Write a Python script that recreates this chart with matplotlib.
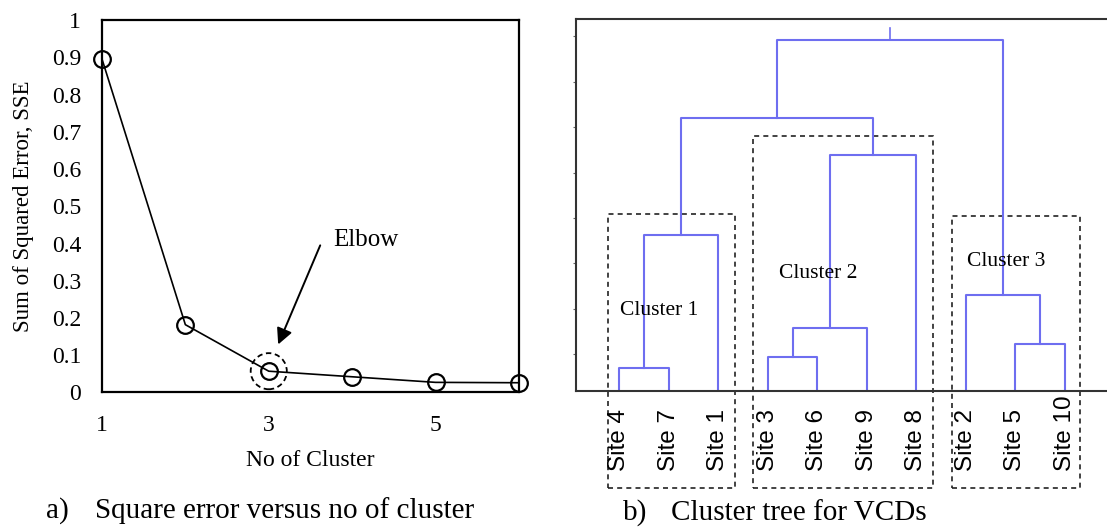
import numpy as np
import matplotlib.pyplot as plt
from matplotlib.patches import Rectangle

# elbow curve data
n_cluster = [1, 2, 3, 4, 5, 6]
sse = [0.896, 0.182, 0.057, 0.042, 0.027, 0.026]

# dendrogram data: leaf order and merges (left, right, height)
leaves = ["Site 4", "Site 7", "Site 1", "Site 3", "Site 6", "Site 9", "Site 8",
          "Site 2", "Site 5", "Site 10"]
merges = [(0, 1, 0.062), (10, 2, 0.419),
          (3, 4, 0.092), (12, 5, 0.171), (13, 6, 0.636),
          (11, 14, 0.734),
          (8, 9, 0.127), (7, 16, 0.258),
          (15, 17, 0.943)]
cluster_names = ["Cluster 1", "Cluster 2", "Cluster 3"]
cluster_label_pos = [(1.81, 0.218), (5.01, 0.316), (8.81, 0.349)]
cluster_boxes = [(0.774, 3.338, 0.476), (3.691, 7.326, 0.685), (7.727, 10.297, 0.472)]

serif = "Liberation Serif"
fig = plt.figure(figsize=(11.07, 5.29), dpi=100)

# ---- a) elbow plot
ax1 = fig.add_axes([0.0921, 0.2582, 0.3767, 0.7036])
ax1.plot(n_cluster, sse, "k-", lw=1.2, marker="o", ms=12, mfc="none", mec="k", mew=1.6,
         clip_on=False, zorder=3)
ax1.scatter([n_cluster[2]], [sse[2]], s=26**2, facecolors="none", edgecolors="k",
            linewidths=1.3, linestyles=(0, (3, 2)), clip_on=False, zorder=3)
ax1.set_xlim(1, 6)
ax1.set_ylim(0, 1)
ax1.set_xticks([1, 3, 5])
ax1.set_yticks(np.arange(0, 1.01, 0.1))
ax1.set_yticklabels(["0", "0.1", "0.2", "0.3", "0.4", "0.5", "0.6", "0.7", "0.8", "0.9", "1"])
ax1.tick_params(length=0, labelsize=17, pad=15)
ax1.tick_params(axis="x", pad=16)
for lab in ax1.get_xticklabels() + ax1.get_yticklabels():
    lab.set_fontfamily(serif)
for s in ax1.spines.values():
    s.set_linewidth(1.6)
ax1.set_xlabel("No of Cluster", fontsize=17, fontfamily=serif, labelpad=10)
ax1.set_ylabel("Sum of Squared Error, SSE", fontsize=16.5, fontfamily=serif, labelpad=13)
ax1.annotate("", xy=(3.1, 0.122), xytext=(3.63, 0.402),
             arrowprops=dict(arrowstyle="-|>", color="k", lw=1.4, mutation_scale=24))
ax1.text(3.77, 0.41, "Elbow", fontsize=18, fontfamily=serif, va="center", ha="left")

fig.text(0.0416, 0.034, "a)", fontsize=21, fontfamily=serif, va="center")
fig.text(0.0855, 0.034, "Square error versus no of cluster", fontsize=21, fontfamily=serif, va="center")

# ---- b) dendrogram
ax2 = fig.add_axes([0.5207, 0.2601, 0.4793, 0.7036])
blue = "#6e6ef0"
xpos = {i: i + 1.0 for i in range(len(leaves))}
ypos = {i: 0.0 for i in range(len(leaves))}
for k, (a, b, h) in enumerate(merges):
    node = len(leaves) + k
    ax2.plot([xpos[a], xpos[a], xpos[b], xpos[b]], [ypos[a], h, h, ypos[b]], color=blue, lw=1.5)
    xpos[node] = (xpos[a] + xpos[b]) / 2
    ypos[node] = h
top = len(leaves) + len(merges) - 1
ax2.plot([xpos[top], xpos[top]], [ypos[top], 0.977], color=blue, lw=1.2)

ax2.set_xlim(0.134, 10.85)
ax2.set_ylim(0, 1)
ax2.spines["right"].set_visible(False)
for s in ["left", "top", "bottom"]:
    ax2.spines[s].set_linewidth(1.5)
    ax2.spines[s].set_color("#333333")
ax2.set_xticks([])
ax2.set_yticks(np.arange(0.1, 1.0, 0.122))
ax2.set_yticklabels([])
ax2.tick_params(axis="y", length=2, direction="out", color="#666666")

for i, name in enumerate(leaves):
    ax2.text(xpos[i], -0.214, name, rotation=90, ha="center", va="bottom",
             fontsize=17.5, fontfamily="Liberation Sans")

for (x0, x1, ytop), name, (lx, ly) in zip(cluster_boxes, cluster_names, cluster_label_pos):
    ax2.add_patch(Rectangle((x0, -0.259), x1 - x0, ytop + 0.259, fill=False, ec="#222222",
                            ls=(0, (3, 2.5)), lw=1.2, clip_on=False))
    ax2.text(lx, ly, name, fontsize=15.5, fontfamily=serif, ha="center", va="center")

fig.text(0.5626, 0.031, "b)", fontsize=21, fontfamily=serif, va="center")
fig.text(0.6061, 0.031, "Cluster tree for VCDs", fontsize=21, fontfamily=serif, va="center")

fig.savefig("out.png", dpi=100)
